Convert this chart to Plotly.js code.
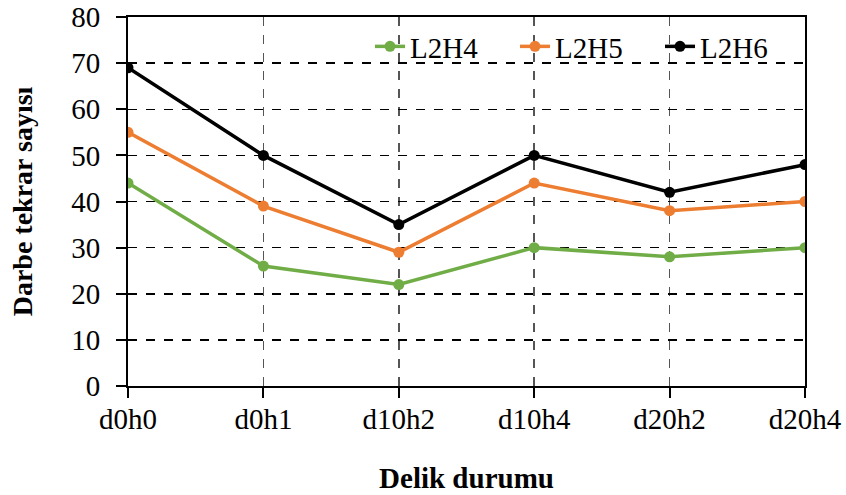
<!DOCTYPE html>
<html>
<head>
<meta charset="utf-8">
<script src="https://cdn.plot.ly/plotly-3.0.1.min.js"></script>
<style>html,body{margin:0;padding:0;background:#fff;}#chart{width:846px;height:495px;}</style>
</head>
<body>
<div id="chart"></div>
<script>
const categories = ["d0h0", "d0h1", "d10h2", "d10h4", "d20h2", "d20h4"];
const L2H4 = [44, 26, 22, 30, 28, 30];
const L2H5 = [55, 39, 29, 44, 38, 40];
const L2H6 = [69, 50, 35, 50, 42, 48];

const font = "Liberation Serif, Times New Roman, serif";
function tr(name, y, color) {
  return {
    x: categories, y: y, name: name, type: "scatter", mode: "lines+markers",
    line: {color: color, width: 3.5}, marker: {color: color, size: 11}
  };
}
const data = [tr("L2H4", L2H4, "#70AD47"), tr("L2H5", L2H5, "#ED7D31"), tr("L2H6", L2H6, "#000000")];
const layout = {
  width: 846, height: 495,
  margin: {l: 128, r: 41, t: 17, b: 109, autoexpand: false},
  paper_bgcolor: "#fff", plot_bgcolor: "#fff",
  font: {family: font, color: "#000", size: 29},
  showlegend: true,
  legend: {orientation: "h", x: 1, xanchor: "right", y: 0.92, yanchor: "middle",
           bgcolor: "rgba(0,0,0,0)", font: {size: 29, family: font}, itemwidth: 30,
           entrywidth: 100, entrywidthmode: "pixels", tracegroupgap: 0},
  xaxis: {
    type: "category", range: [0, 5], showline: true, linecolor: "#000", linewidth: 2,
    mirror: true, ticks: "outside", ticklen: 10, tickwidth: 2, tickcolor: "#000",
    ticklabelstandoff: -4,
    showgrid: true, gridcolor: "#555", griddash: "dash", gridwidth: 1.5,
    tickfont: {size: 29}, zeroline: false,
    title: {text: "<b>Delik durumu</b>", font: {size: 29}, standoff: 34}
  },
  yaxis: {
    range: [0, 80], dtick: 10, showline: true, linecolor: "#000", linewidth: 2,
    mirror: true, ticks: "outside", ticklen: 10, tickwidth: 2, tickcolor: "#000",
    ticklabelstandoff: 10,
    showgrid: true, gridcolor: "#000", griddash: "dash", gridwidth: 1.5,
    tickfont: {size: 29}, zeroline: false,
    title: {text: "<b>Darbe tekrar sayısı</b>", font: {size: 28}, standoff: 30}
  }
};
Plotly.newPlot("chart", data, layout, {staticPlot: true});
</script>
</body>
</html>
